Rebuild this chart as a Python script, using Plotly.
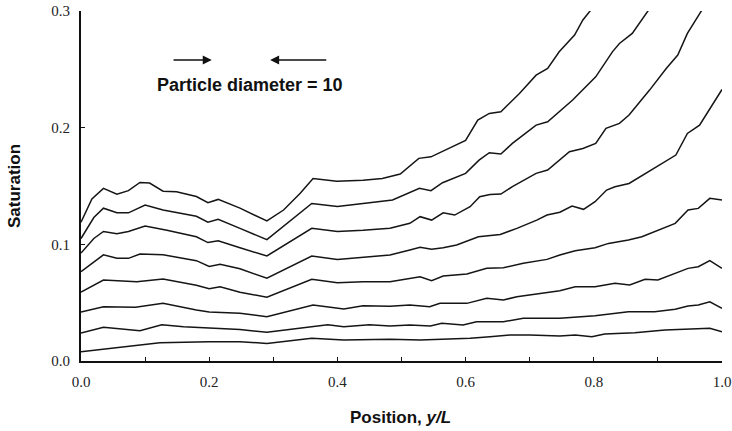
import plotly.graph_objects as go

# Curves from bottom (1) to top (8): position y/L and saturation
x1 = [0, 0.123, 0.2, 0.248, 0.29, 0.36, 0.41, 0.482, 0.529, 0.607, 0.638, 0.669, 0.7, 0.747, 0.771, 0.797, 0.817, 0.864, 0.911, 0.94, 0.981, 1.0]
s1 = [0.008, 0.0157, 0.0165, 0.0165, 0.0151, 0.0194, 0.018, 0.0186, 0.018, 0.0194, 0.0208, 0.0223, 0.0223, 0.0214, 0.0223, 0.0208, 0.0231, 0.0243, 0.0266, 0.027, 0.028, 0.0251]

x2 = [0, 0.035, 0.092, 0.126, 0.16, 0.248, 0.29, 0.385, 0.41, 0.45, 0.482, 0.513, 0.545, 0.563, 0.596, 0.617, 0.659, 0.69, 0.747, 0.802, 0.854, 0.895, 0.927, 0.947, 0.963, 0.981, 1.0]
s2 = [0.024, 0.0289, 0.026, 0.031, 0.0294, 0.027, 0.0246, 0.031, 0.0294, 0.031, 0.030, 0.0308, 0.030, 0.0323, 0.0308, 0.0337, 0.0337, 0.0366, 0.0366, 0.0388, 0.0423, 0.0423, 0.0443, 0.0471, 0.048, 0.0508, 0.0451]

x3 = [0, 0.035, 0.085, 0.128, 0.18, 0.2, 0.248, 0.29, 0.362, 0.41, 0.44, 0.482, 0.513, 0.544, 0.56, 0.602, 0.633, 0.659, 0.68, 0.711, 0.747, 0.771, 0.802, 0.833, 0.856, 0.88, 0.9, 0.947, 0.963, 0.981, 1.0]
s3 = [0.042, 0.0465, 0.046, 0.0494, 0.0437, 0.042, 0.041, 0.038, 0.048, 0.0446, 0.0474, 0.047, 0.048, 0.0465, 0.0494, 0.0494, 0.0537, 0.0523, 0.0551, 0.0574, 0.0602, 0.0637, 0.0637, 0.0666, 0.0651, 0.07, 0.0694, 0.0794, 0.0808, 0.086, 0.0794]

x4 = [0, 0.035, 0.087, 0.128, 0.18, 0.2, 0.217, 0.248, 0.29, 0.36, 0.4, 0.44, 0.482, 0.513, 0.529, 0.547, 0.565, 0.602, 0.633, 0.659, 0.69, 0.727, 0.747, 0.771, 0.802, 0.823, 0.854, 0.875, 0.895, 0.927, 0.947, 0.963, 0.981, 1.0]
s4 = [0.059, 0.0694, 0.068, 0.0703, 0.065, 0.062, 0.0637, 0.059, 0.0546, 0.070, 0.067, 0.068, 0.068, 0.0709, 0.0722, 0.0688, 0.0728, 0.0746, 0.0794, 0.08, 0.0837, 0.0871, 0.0908, 0.0945, 0.0971, 0.1008, 0.1037, 0.1065, 0.1108, 0.118, 0.1294, 0.1308, 0.1394, 0.138]

x5 = [0, 0.02, 0.035, 0.056, 0.074, 0.092, 0.128, 0.18, 0.2, 0.217, 0.248, 0.29, 0.36, 0.4, 0.44, 0.482, 0.513, 0.529, 0.547, 0.565, 0.586, 0.607, 0.62, 0.654, 0.68, 0.711, 0.727, 0.747, 0.766, 0.784, 0.802, 0.82, 0.833, 0.855, 0.877, 0.89, 0.928, 0.946, 0.965, 1.0]
s5 = [0.0765, 0.085, 0.091, 0.088, 0.088, 0.0917, 0.091, 0.086, 0.081, 0.083, 0.079, 0.0709, 0.09, 0.0871, 0.089, 0.0908, 0.0951, 0.0974, 0.0957, 0.097, 0.0994, 0.1037, 0.1065, 0.1085, 0.1137, 0.1208, 0.1251, 0.1275, 0.1328, 0.13, 0.1365, 0.1465, 0.1494, 0.1522, 0.1594, 0.1637, 0.1765, 0.195, 0.2022, 0.2327]

x6 = [0, 0.02, 0.035, 0.056, 0.074, 0.1, 0.134, 0.18, 0.198, 0.214, 0.248, 0.29, 0.36, 0.4, 0.44, 0.482, 0.513, 0.529, 0.547, 0.565, 0.583, 0.607, 0.622, 0.638, 0.655, 0.673, 0.71, 0.728, 0.762, 0.783, 0.803, 0.819, 0.84, 0.855, 0.887, 0.913, 0.931, 0.946, 0.97]
s6 = [0.0925, 0.105, 0.111, 0.109, 0.111, 0.1157, 0.112, 0.1065, 0.1015, 0.103, 0.097, 0.09, 0.1137, 0.111, 0.112, 0.1137, 0.118, 0.1237, 0.1208, 0.127, 0.1251, 0.1322, 0.1408, 0.1428, 0.1431, 0.1494, 0.1608, 0.1637, 0.1794, 0.1822, 0.1865, 0.1994, 0.2037, 0.2108, 0.2322, 0.2507, 0.2622, 0.2808, 0.302]

x7 = [0, 0.02, 0.035, 0.056, 0.074, 0.1, 0.128, 0.18, 0.198, 0.214, 0.248, 0.29, 0.36, 0.4, 0.44, 0.486, 0.528, 0.546, 0.564, 0.6, 0.621, 0.637, 0.655, 0.673, 0.71, 0.728, 0.767, 0.803, 0.829, 0.84, 0.86, 0.887]
s7 = [0.105, 0.123, 0.131, 0.127, 0.127, 0.1337, 0.1294, 0.124, 0.119, 0.1214, 0.1137, 0.104, 0.135, 0.1325, 0.135, 0.138, 0.148, 0.146, 0.1528, 0.1608, 0.1722, 0.1785, 0.1774, 0.1865, 0.2022, 0.205, 0.2237, 0.2436, 0.265, 0.2722, 0.2808, 0.302]

x8 = [0, 0.017, 0.035, 0.056, 0.074, 0.092, 0.107, 0.128, 0.149, 0.18, 0.198, 0.214, 0.248, 0.29, 0.316, 0.342, 0.362, 0.399, 0.44, 0.47, 0.498, 0.527, 0.546, 0.6, 0.619, 0.637, 0.655, 0.684, 0.71, 0.728, 0.746, 0.77, 0.783, 0.797]
s8 = [0.119, 0.139, 0.148, 0.143, 0.146, 0.153, 0.1525, 0.1455, 0.145, 0.141, 0.1357, 0.1385, 0.131, 0.12, 0.1294, 0.1437, 0.1565, 0.154, 0.155, 0.1565, 0.1603, 0.1737, 0.175, 0.189, 0.2065, 0.2122, 0.2136, 0.2293, 0.245, 0.2507, 0.265, 0.2794, 0.2923, 0.302]

curves = [(x1, s1), (x2, s2), (x3, s3), (x4, s4), (x5, s5), (x6, s6), (x7, s7), (x8, s8)]

x_tickvals = [0.0, 0.2, 0.4, 0.6, 0.8, 1.0]
x_ticktext = ["0.0", "0.2", "0.4", "0.6", "0.8", "1.0"]
y_tickvals = [0.0, 0.1, 0.2, 0.3]
y_ticktext = ["0.0", "0.1", "0.2", "0.3"]

fig = go.Figure()
for xs, ys in curves:
    fig.add_trace(go.Scatter(x=xs, y=ys, mode="lines",
                             line=dict(color="#151515", width=1.5),
                             showlegend=False, hoverinfo="skip"))

serif = "Liberation Serif, Times New Roman, serif"
sans = "Liberation Sans, Arial, sans-serif"

fig.update_layout(
    width=732, height=431,
    margin=dict(l=81, r=10, t=11, b=70, autoexpand=False),
    paper_bgcolor="white", plot_bgcolor="white",
    xaxis=dict(range=[0, 1.0], showgrid=False, zeroline=False, automargin=False,
               showline=True, linecolor="#111", linewidth=1.5,
               ticks="inside", ticklen=4, tickcolor="#111",
               tickvals=x_tickvals, ticktext=x_ticktext,
               minor=dict(ticks="inside", ticklen=4, dtick=0.1, tickcolor="#111", showgrid=False),
               tickfont=dict(family=serif, size=15, color="#222"),
               ticklabelstandoff=6),
    yaxis=dict(range=[0, 0.3], showgrid=False, zeroline=False, automargin=False,
               showline=True, linecolor="#111", linewidth=2,
               ticks="inside", ticklen=4, tickcolor="#111",
               tickvals=y_tickvals, ticktext=y_ticktext,
               tickfont=dict(family=serif, size=15, color="#222"),
               ticklabelstandoff=6),
    annotations=[
        dict(x=0.264, y=0.237, xref="x", yref="y", text="<b>Particle diameter = 10</b>",
             showarrow=False, font=dict(family=sans, size=18, color="#111")),
        dict(x=0.204, y=0.258, xref="x", yref="y", ax=0.142, ay=0.258, axref="x", ayref="y",
             text="", showarrow=True, arrowhead=2, arrowsize=1.2, arrowwidth=1.5, arrowcolor="#111"),
        dict(x=0.295, y=0.258, xref="x", yref="y", ax=0.385, ay=0.258, axref="x", ayref="y",
             text="", showarrow=True, arrowhead=2, arrowsize=1.2, arrowwidth=1.5, arrowcolor="#111"),
        dict(x=0.499, y=(361 - 417) / 350, xref="paper", yref="paper",
             text="<b>Position, <i>y/L</i></b>", showarrow=False,
             font=dict(family=sans, size=17, color="#111"), xanchor="center", yanchor="middle"),
        dict(x=(14 - 81) / 641, y=0.5, xref="paper", yref="paper", textangle=-90,
             text="<b>Saturation</b>", showarrow=False,
             font=dict(family=sans, size=17, color="#111"), xanchor="center", yanchor="middle"),
    ],
)

# remove the browser's default body margin so the figure fills the window exactly
fig.write_html("out.html",
               config={"displayModeBar": False},
               post_script="document.body.style.margin='0px';document.body.style.overflow='hidden';")
